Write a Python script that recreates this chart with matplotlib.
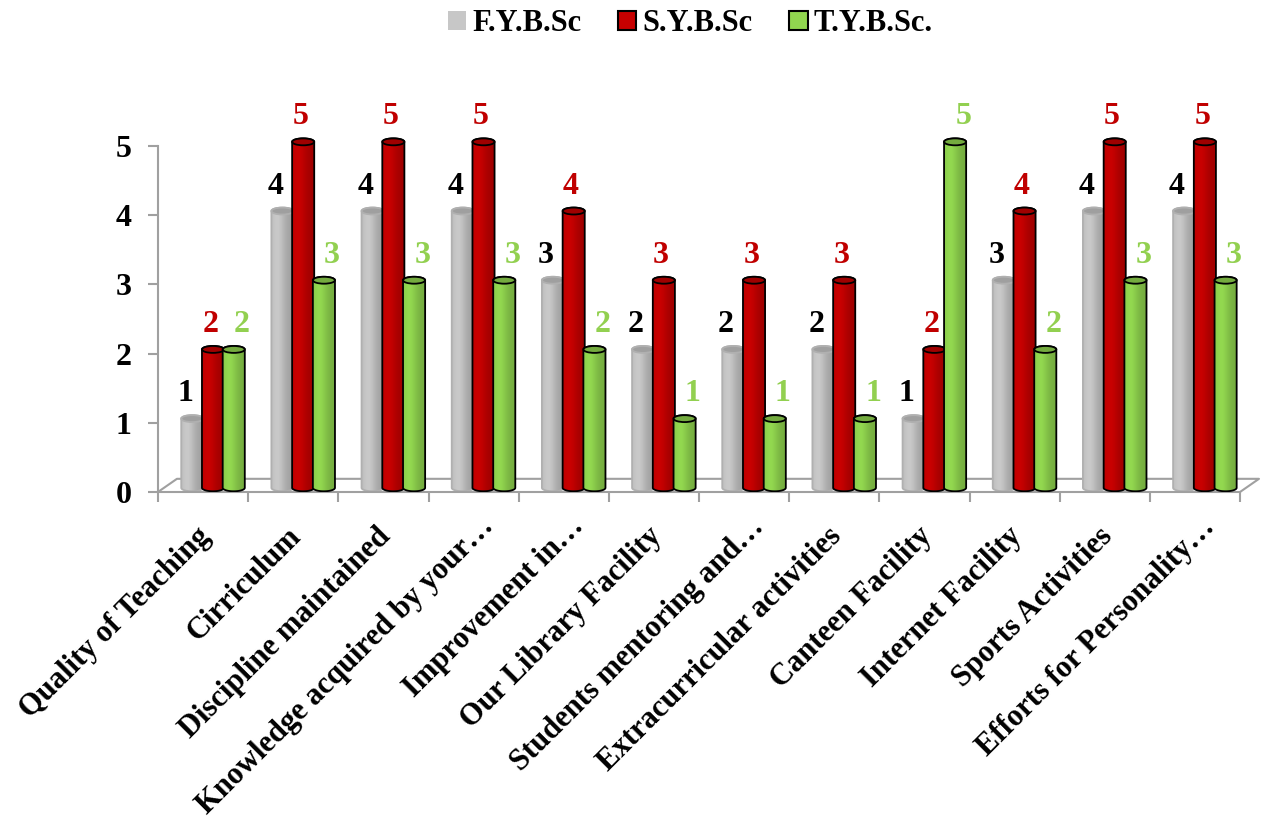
import numpy as np
import matplotlib
matplotlib.use('Agg')
import matplotlib.pyplot as plt
from matplotlib.patches import Polygon, Ellipse, Patch

plt.rcParams['font.family'] = ['Liberation Serif', 'DejaVu Serif']
plt.rcParams['font.weight'] = 'bold'

categories = ["Quality of Teaching", "Cirriculum", "Discipline maintained",
              "Knowledge acquired by your\u2026", "Improvement in\u2026",
              "Our Library Facility", "Students mentoring and\u2026",
              "Extracurricular activities", "Canteen Facility",
              "Internet Facility", "Sports Activities",
              "Efforts for Personality\u2026"]
series_names = ["F.Y.B.Sc", "S.Y.B.Sc", "T.Y.B.Sc."]
fy = [1, 4, 4, 4, 3, 2, 2, 2, 1, 3, 4, 4]
sy = [2, 5, 5, 5, 4, 3, 3, 3, 2, 4, 5, 5]
ty = [2, 3, 3, 3, 2, 1, 1, 1, 5, 2, 3, 3]

colors = [(0.78, 0.78, 0.78), (0.78, 0.0, 0.0), (0.57, 0.84, 0.31)]
label_colors = ['black', '#C00000', '#92D050']
edges = ['#B0B0B0', 'black', 'black']
offsets = [-0.12, 0.11, 0.34]
label_dx = [-0.08, -0.03, 0.09]
grey = '#A0A0A0'

width = 0.245
ell_h = 0.1
base = 0.06


def shade(color, n=64):
    u = np.linspace(0, 1, n)
    f = 0.9 + 0.14 * np.exp(-((u - 0.3) / 0.3) ** 2) - 0.1 * u
    rgb = np.clip(np.outer(f, color), 0, 1)
    return rgb[np.newaxis, :, :]


def cylinder(ax, x, top, color, edge, z):
    t = np.linspace(np.pi, 2 * np.pi, 40)
    lower = np.column_stack([x + width / 2 * np.cos(t), base + ell_h / 2 * np.sin(t)])
    t = np.linspace(0, np.pi, 40)
    upper = np.column_stack([x + width / 2 * np.cos(t), top + ell_h / 2 * np.sin(t)])
    body = Polygon(np.vstack([lower, upper]), closed=True, facecolor='none',
                   edgecolor=edge, lw=1.3, zorder=z + 0.2)
    ax.add_patch(body)
    img = ax.imshow(shade(color), extent=(x - width / 2, x + width / 2, base - ell_h, top + ell_h),
                    aspect='auto', interpolation='bicubic', zorder=z)
    img.set_clip_path(body)
    cap = tuple(np.array(color) * 0.8)
    ax.add_patch(Ellipse((x, top), width, ell_h, facecolor=cap, edgecolor=edge,
                         lw=1.3, zorder=z + 0.3))


fig = plt.figure(figsize=(12.62, 8.22), dpi=100)
# 0 at 492 px, 5 at 146 px from top
ax = fig.add_axes([0.1252, 0.4015, 0.8574, 0.4714])

for s, vals in enumerate([fy, sy, ty]):
    for i, v in enumerate(vals):
        x = i + offsets[s]
        cylinder(ax, x, v + base, colors[s], edges[s], 2 + s)
        ax.text(x + label_dx[s], v + base + 0.36, str(v), color=label_colors[s],
                fontsize=23, ha='center', va='center', zorder=10)

# floor
ax.plot([-0.5, -0.29, 11.71, 11.5], [0, 0.19, 0.19, 0], color=grey, lw=1.5,
        clip_on=False, zorder=1)

ax.set_xlim(-0.5, 11.5)
ax.set_ylim(0, 5.6)
for side in ['top', 'right']:
    ax.spines[side].set_visible(False)
ax.spines['left'].set_color(grey)
ax.spines['bottom'].set_color(grey)
ax.spines['left'].set_linewidth(1.5)
ax.spines['bottom'].set_linewidth(1.5)
ax.spines['left'].set_bounds(0, 5)
ax.set_yticks(range(6))
ax.tick_params(axis='y', length=7, color=grey, width=1.5, pad=12, labelsize=23)
ax.set_xticks(np.arange(-0.5, 12, 1))
ax.set_xticklabels([])
ax.tick_params(axis='x', length=7, color=grey, width=1.5)

for i, c in enumerate(categories):
    lx, ly = i + 0.035, -0.58
    if c.endswith("\u2026"):
        lx, ly = lx + 0.14, ly + 0.14
    ax.text(lx, ly, c, rotation=45, rotation_mode='anchor', ha='right',
            va='center', fontsize=22)

handles = [Patch(facecolor=colors[0], edgecolor='none'),
           Patch(facecolor=colors[1], edgecolor='black', lw=1.5),
           Patch(facecolor=colors[2], edgecolor='black', lw=1.5)]
fig.legend(handles, series_names, loc='upper center', bbox_to_anchor=(0.547, 1.022),
           ncol=3, frameon=False, fontsize=22, handlelength=0.6, handleheight=0.6,
           handletextpad=0.2, columnspacing=1.2)

plt.savefig("out.png", format="png", dpi=100)
